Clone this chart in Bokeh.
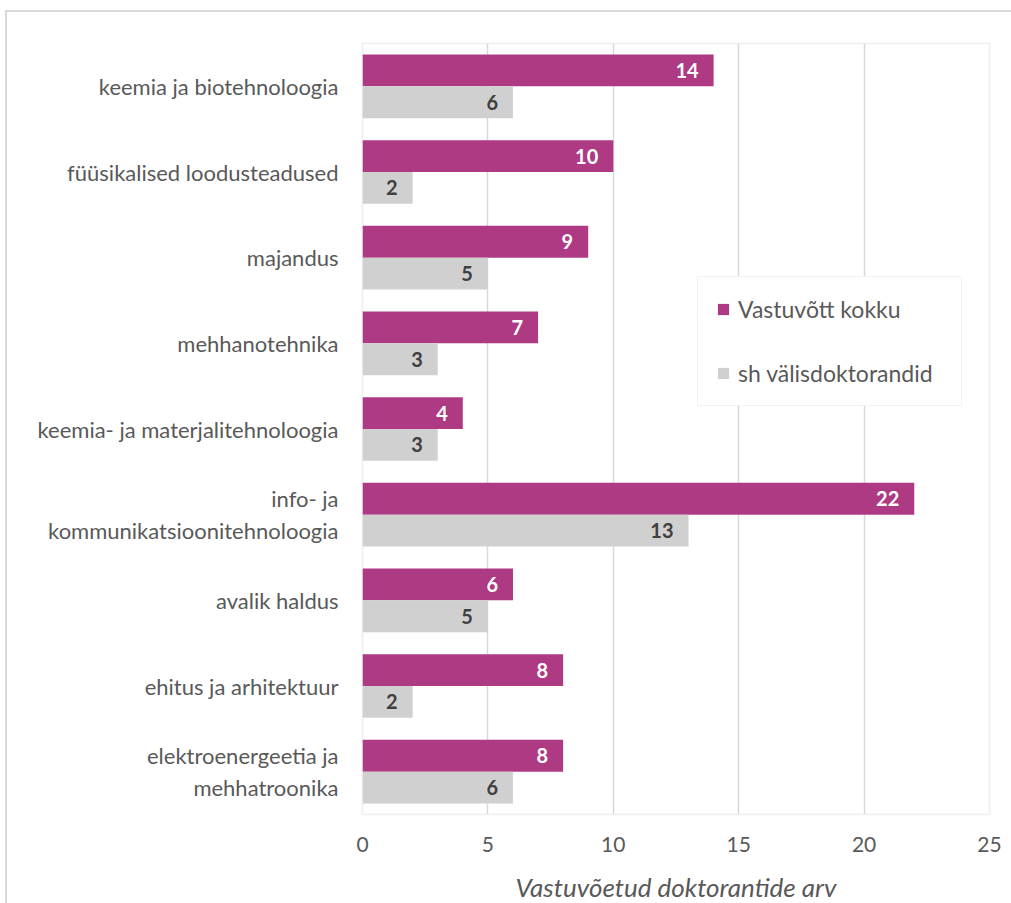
from bokeh.plotting import figure
from bokeh.models import ColumnDataSource, FactorRange, LabelSet, FixedTicker, Legend, LegendItem
from bokeh.transform import dodge
from bokeh.core.properties import value
from bokeh.embed import file_html
from bokeh.resources import INLINE

categories = [
    "keemia ja biotehnoloogia",
    "füüsikalised loodusteadused",
    "majandus",
    "mehhanotehnika",
    "keemia- ja materjalitehnoloogia",
    "info- ja\nkommunikatsioonitehnoloogia",
    "avalik haldus",
    "ehitus ja arhitektuur",
    "elektroenergeetia ja\nmehhatroonika",
]
total = [14, 10, 9, 7, 4, 22, 6, 8, 8]
foreign = [6, 2, 5, 3, 3, 13, 5, 2, 6]
x_ticks = [0, 5, 10, 15, 20, 25]
series_names = ["Vastuvõtt kokku", "sh välisdoktorandid"]

FONT = "Lato"
MAGENTA = "#AD3A82"
GRAY = "#D0D0D0"
TXT = "#595959"

src = ColumnDataSource(dict(cat=categories, total=total, foreign=foreign,
                            total_lbl=[str(v) for v in total],
                            foreign_lbl=[str(v) for v in foreign]))

p = figure(width=1006, height=893, output_backend="svg", toolbar_location=None,
           y_range=FactorRange(factors=list(reversed(categories)), range_padding=0),
           x_range=(0, 25),
           min_border_left=355, min_border_right=24, min_border_top=31, min_border_bottom=79,
           styles={"margin-left": "5px", "margin-top": "10px",
                   "border-top": "2px solid #D9D9D9", "border-left": "2px solid #D9D9D9"})

bh = 0.372
r1 = p.hbar(y=dodge("cat", bh / 2, range=p.y_range), right="total", left=0, height=bh,
            source=src, fill_color=MAGENTA, line_color=None)
r2 = p.hbar(y=dodge("cat", -bh / 2, range=p.y_range), right="foreign", left=0, height=bh,
            source=src, fill_color=GRAY, line_color=None)

p.add_layout(LabelSet(x="total", y=dodge("cat", bh / 2, range=p.y_range), text="total_lbl",
                      source=src, x_offset=-15, text_align="right", text_baseline="middle",
                      text_font=value(FONT), text_font_size="20px", text_font_style="bold",
                      text_color="white"))
p.add_layout(LabelSet(x="foreign", y=dodge("cat", -bh / 2, range=p.y_range), text="foreign_lbl",
                      source=src, x_offset=-15, text_align="right", text_baseline="middle",
                      text_font=value(FONT), text_font_size="20px", text_font_style="bold",
                      text_color="#404040"))

legend = Legend(items=[LegendItem(label=series_names[0], renderers=[r1]),
                       LegendItem(label=series_names[1], renderers=[r2])],
                location=(335, 408), orientation="vertical")
legend.label_text_font = FONT
legend.label_text_font_size = "23px"
legend.label_text_color = TXT
legend.glyph_width = 14
legend.glyph_height = 14
legend.label_height = 22
legend.label_width = 205
legend.spacing = 36
legend.padding = 18
legend.label_standoff = 8
legend.border_line_color = "#E6E6E6"
legend.border_line_width = 1.5
legend.background_fill_alpha = 1
legend.margin = 0
p.add_layout(legend, "center")

p.xaxis.ticker = FixedTicker(ticks=x_ticks)
p.xaxis.axis_line_color = None
p.xaxis.major_tick_line_color = None
p.xaxis.minor_tick_line_color = None
p.xaxis.major_label_standoff = 16
p.xaxis.major_label_text_font = FONT
p.xaxis.major_label_text_font_size = "21px"
p.xaxis.major_label_text_color = TXT
p.xaxis.axis_label = "Vastuvõetud doktorantide arv"
p.xaxis.axis_label_text_font = FONT
p.xaxis.axis_label_text_font_size = "26px"
p.xaxis.axis_label_text_font_style = "italic"
p.xaxis.axis_label_text_color = TXT
p.xaxis.axis_label_standoff = 16

p.yaxis.axis_line_color = None
p.yaxis.major_tick_line_color = None
p.yaxis.minor_tick_line_color = None
p.yaxis.major_label_standoff = 18
p.yaxis.major_label_text_font = FONT
p.yaxis.major_label_text_font_size = "22px"
p.yaxis.major_label_text_color = TXT

p.xgrid.grid_line_color = "#D9D9D9"
p.xgrid.grid_line_width = 1.5
p.ygrid.grid_line_color = None
p.outline_line_color = "#EEEEEE"
p.outline_line_width = 1.5
p.background_fill_color = "white"
p.border_fill_color = "white"

open("out.html", "w").write(file_html(p, INLINE))
